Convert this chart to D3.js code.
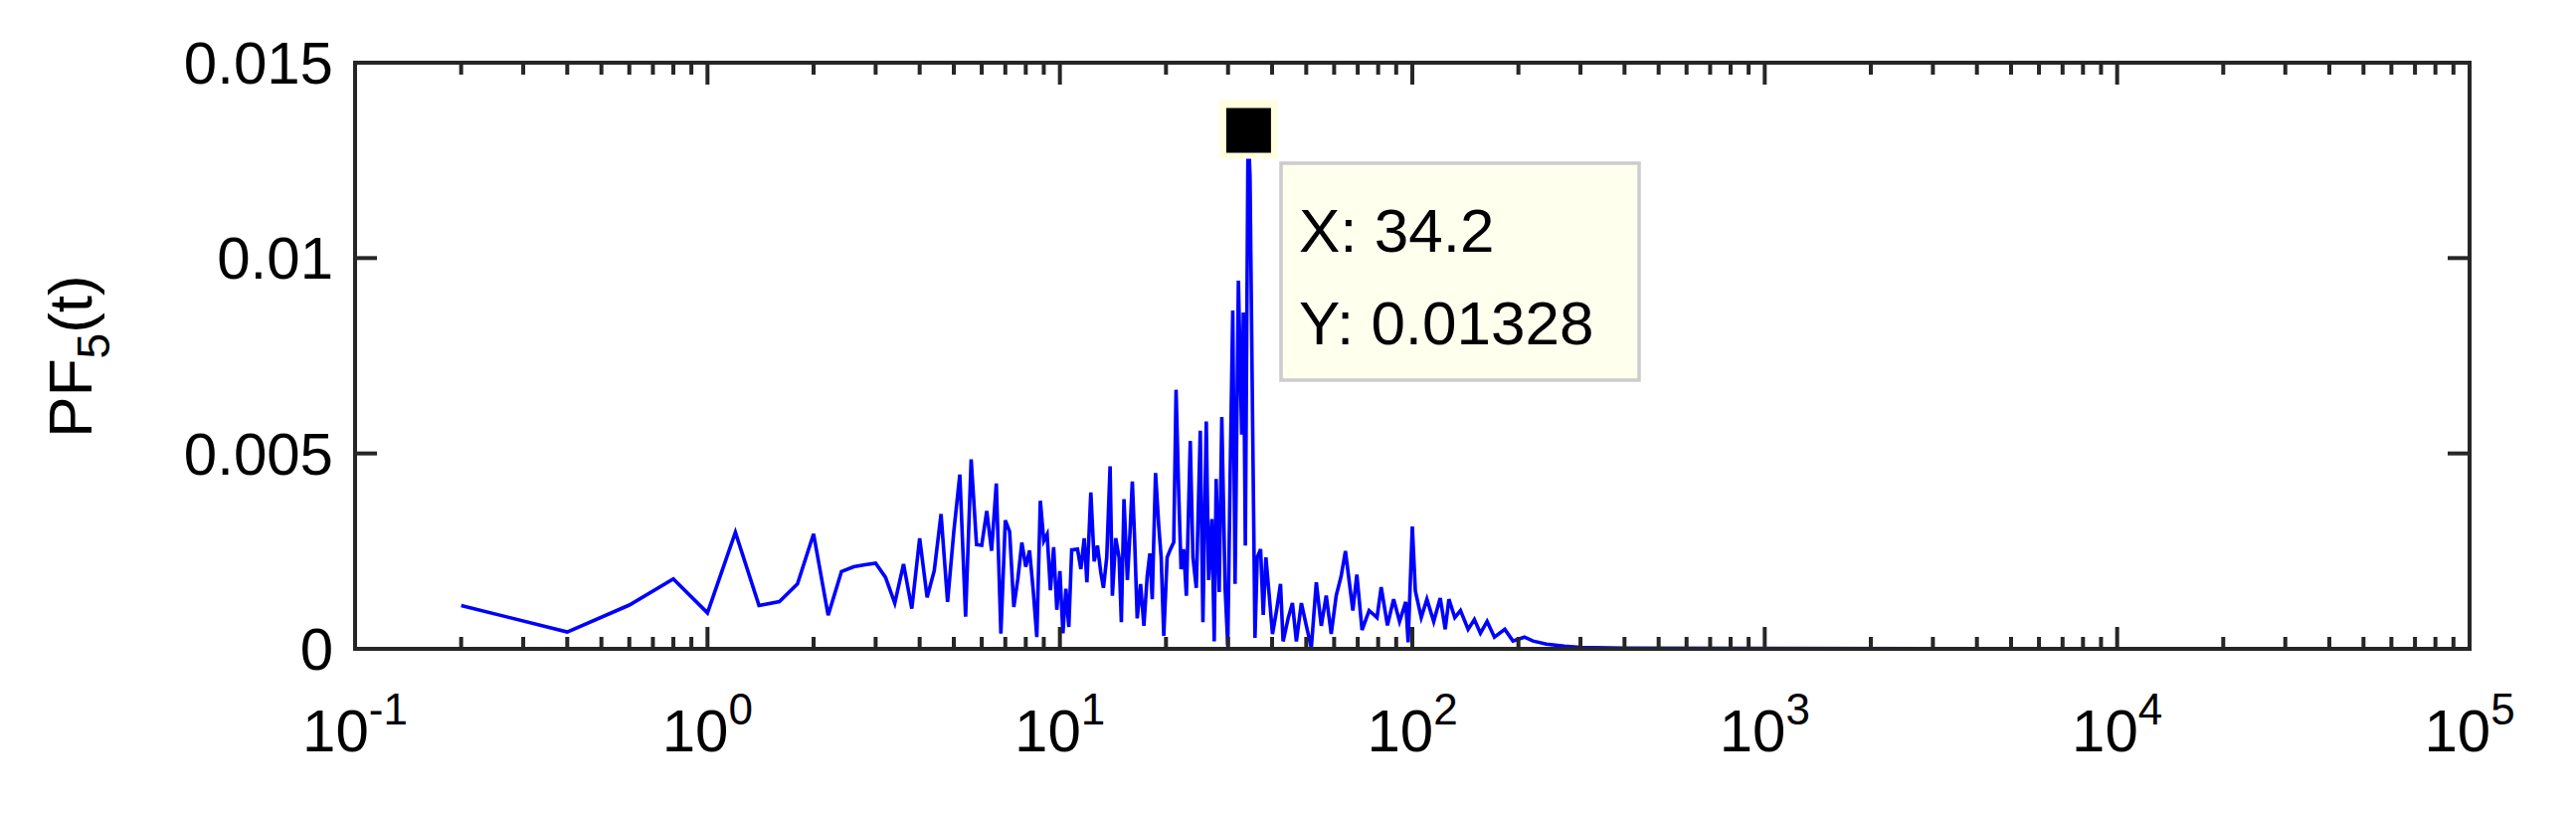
<!DOCTYPE html>
<html><head><meta charset="utf-8">
<script src="https://cdn.jsdelivr.net/npm/d3@7"></script>
<style>body{margin:0;background:#fff}</style></head>
<body><svg id="c" width="2590" height="824"></svg>
<script>
// segment 1: low periods (x step 0.2)
const xsLow = [0.2,0.4,0.6,0.8,1.0,1.2,1.4,1.6,1.8,2.0,2.2,2.4,2.6,2.8,3.0,3.2,3.4,3.6,3.8,4.0,
 4.2,4.4,4.6,4.8,5.0,5.2,5.4,5.6,5.8,6.0,6.2,6.4,6.6,6.8,7.0,7.2,7.4,7.6,7.8,8.0,8.2,8.4,8.6,8.8,9.0,9.2,9.4,9.6,9.8,10.0,10.2,10.4,10.6,10.8];
const ysLow = [0.00111,0.00043,0.00112,0.00179,0.00092,0.00298,0.00111,0.00121,0.00166,0.00294,0.00086,0.00198,0.0021,0.00215,0.00219,0.00183,0.00117,0.00217,0.00103,0.00283,
 0.00132,0.0020,0.00345,0.0012,0.0030,0.00446,0.00082,0.00485,0.00267,0.00265,0.00353,0.00251,0.00423,0.00039,0.00329,0.0030,0.00107,0.0018,0.00272,0.0021,0.00252,0.0015,0.0003,0.00379,0.00276,0.00293,0.0015,0.0026,0.0010,0.00199,0.0004,0.00154,0.00056,0.00253];
// segment 2: mid periods, around the main peak
const xsMid = [11.22,11.47,11.72,11.93,12.24,12.51,12.78,13.06,13.29,13.58,13.88,14.09,14.40,14.72,14.94,15.20,15.54,15.80,16.05,16.29,16.57,16.94,17.31,17.69,18.00,18.28,18.68,19.08,19.38,19.71,20.15,20.59,21.04,21.36,21.73,22.07,22.45,22.85,23.44,23.85,24.38,25.02,25.46,26.02,26.42,26.99,27.41,27.76,28.31,28.80,29.43,29.95,30.41,30.94,31.41,32.10,32.80,33.16,33.59,34.2,34.63,35.24,35.77,36.31,37.11,37.76,38.42,39.27,40.11,41.17,42.26,42.99,44.42,45.69,46.88,48.44,50.04,51.69,53.40,55.16,56.98,58.87,60.81,62.81];
const ysMid = [0.00255,0.00204,0.00283,0.0017,0.0040,0.00224,0.00264,0.00196,0.00156,0.00234,0.00467,0.00136,0.00283,0.00234,0.00068,0.00383,0.00176,0.00293,0.00428,0.00283,0.00078,0.00166,0.00059,0.00186,0.00244,0.00127,0.0045,0.00313,0.00234,0.00033,0.00234,0.00255,0.00273,0.00663,0.0040,0.00204,0.00255,0.00136,0.00532,0.00234,0.00156,0.00558,0.00068,0.00582,0.00176,0.00332,0.00019,0.00435,0.00145,0.00593,0.00156,0.00009,0.0044,0.00866,0.00166,0.00942,0.00548,0.00861,0.00264,0.01328,0.0121,0.00563,0.00028,0.00234,0.00255,0.00087,0.00234,0.00136,0.00038,0.00097,0.00166,0.00019,0.00078,0.00117,0.00019,0.00117,0.00059,0.00003,0.0017,0.00059,0.00136,0.00038,0.00136,0.00186];
// segment 3: long periods, decaying tail
const xsHigh = [64.6,67.8,69.6,72.0,75.4,79.4,81.6,85,88.5,92,95.8,97.3,100,102,106,110,115,120,124,127,132,137,144,150,156,163,171,183,193,208,220,240,270,300,400,1000,3000,10000,25000];
const ysHigh = [0.0025,0.00098,0.0019,0.00048,0.00098,0.0008,0.00158,0.0006,0.00127,0.0007,0.0012,0.00017,0.00313,0.00148,0.0008,0.00127,0.0007,0.0013,0.0005,0.00127,0.0008,0.00098,0.0005,0.00075,0.0004,0.0007,0.0003,0.0005,0.0002,0.0003,0.0002,0.00012,0.00007,0.00004,0.00002,0.00001,0.000005,0.000002,0.0];
const yTicks = [0,0.005,0.01,0.015];
const yTickLabels = ["0","0.005","0.01","0.015"];
const xDecades = [-1,0,1,2,3,4,5];
const tipX = 34.2, tipY = 0.01328;
const tipLines = ["X: 34.2","Y: 0.01328"];

const xs=xsLow.concat(xsMid,xsHigh), ys=ysLow.concat(ysMid,ysHigh);
const L=357,R=2483,T=63,B=652;
const svg=d3.select("#c");
const x=d3.scaleLog().domain([0.1,1e5]).range([L,R]);
const y=d3.scaleLinear().domain([0,0.015]).range([B,T]);
const ax="#262626", font="'Liberation Sans',Arial,sans-serif";

svg.append("path").datum(d3.zip(xs,ys)).attr("fill","none").attr("stroke","#0000ff")
 .attr("stroke-width",3.6).attr("stroke-linejoin","miter")
 .attr("d",d3.line().x(d=>x(d[0])).y(d=>y(d[1])));

const g=svg.append("g").attr("stroke",ax).attr("stroke-width",4);
const minors=[];
for(let e=-1;e<5;e++) for(let k=2;k<=9;k++) minors.push(k*Math.pow(10,e));
minors.forEach(v=>{const px=x(v);
 g.append("line").attr("x1",px).attr("x2",px).attr("y1",B).attr("y2",B-12);
 g.append("line").attr("x1",px).attr("x2",px).attr("y1",T).attr("y2",T+12);});
xDecades.forEach(e=>{const px=x(Math.pow(10,e));
 g.append("line").attr("x1",px).attr("x2",px).attr("y1",B).attr("y2",B-22);
 g.append("line").attr("x1",px).attr("x2",px).attr("y1",T).attr("y2",T+22);});
yTicks.forEach(v=>{const py=y(v);
 g.append("line").attr("x1",L).attr("x2",L+22).attr("y1",py).attr("y2",py);
 g.append("line").attr("x1",R).attr("x2",R-22).attr("y1",py).attr("y2",py);});
svg.append("rect").attr("x",L).attr("y",T).attr("width",R-L).attr("height",B-T)
 .attr("fill","none").attr("stroke",ax).attr("stroke-width",4);

yTicks.forEach((v,i)=>svg.append("text").attr("x",L-22).attr("y",y(v)+21)
 .attr("text-anchor","end").attr("font-family",font).attr("font-size",60).attr("fill","#000").text(yTickLabels[i]));
xDecades.forEach(e=>{const t=svg.append("text").attr("x",x(Math.pow(10,e))).attr("y",755)
 .attr("text-anchor","middle").attr("font-family",font).attr("font-size",60).attr("fill","#000");
 t.append("tspan").text("10");
 t.append("tspan").attr("dy",-27).attr("font-size",44).text(String(e));});
const yt=svg.append("text").attr("transform","translate(92,358) rotate(-90)").attr("text-anchor","middle")
 .attr("font-family",font).attr("font-size",62).attr("fill","#000");
yt.append("tspan").text("PF");
yt.append("tspan").attr("dy",18).attr("font-size",46).text("5");
yt.append("tspan").attr("dy",-18).text("(t)");

const mx=x(tipX), my=y(tipY);
svg.append("rect").attr("x",mx-29).attr("y",my-30).attr("width",59).attr("height",59).attr("fill","#ffffe0");
svg.append("rect").attr("x",mx-22).attr("y",my-22).attr("width",45).attr("height",45).attr("fill","#000");
svg.append("rect").attr("x",1288).attr("y",164).attr("width",360).attr("height",218)
 .attr("fill","#ffffee").attr("stroke","#cccccc").attr("stroke-width",3.5);
tipLines.forEach((s,i)=>svg.append("text").attr("x",1306).attr("y",253+i*93)
 .attr("font-family",font).attr("font-size",62).attr("fill","#000").text(s));
</script></body></html>
